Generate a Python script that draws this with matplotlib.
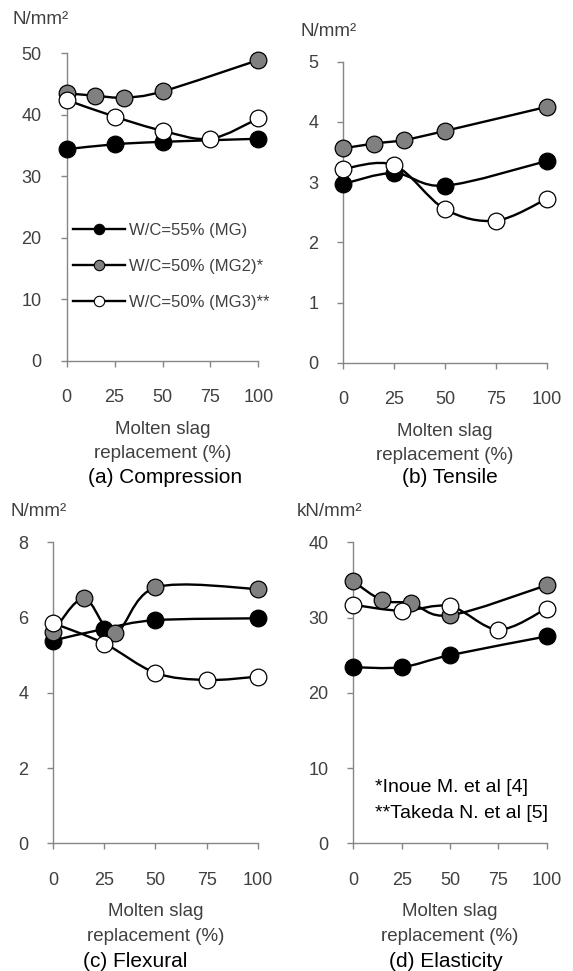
import matplotlib
matplotlib.use('Agg')
import matplotlib.pyplot as plt
from matplotlib.path import Path
from matplotlib.patches import PathPatch
from matplotlib.lines import Line2D
import numpy as np

plt.rcParams['font.family'] = ['Liberation Sans', 'DejaVu Sans']

# replacement levels (%)
x_mg = [0, 25, 50, 100]
x_mg2 = [0, 15, 30, 50, 100]
x_mg3 = [0, 25, 50, 75, 100]

# (a) compression, N/mm2
comp_mg = [34.4, 35.2, 35.6, 36.1]
comp_mg2 = [43.5, 43.1, 42.8, 43.8, 48.9]
comp_mg3 = [42.4, 39.7, 37.4, 36.1, 39.4]

# (b) tensile, N/mm2
tens_mg = [2.97, 3.15, 2.94, 3.35]
tens_mg2 = [3.56, 3.64, 3.70, 3.85, 4.25]
tens_mg3 = [3.22, 3.28, 2.55, 2.36, 2.72]

# (c) flexural, N/mm2
flex_mg = [5.39, 5.70, 5.93, 5.98]
flex_mg2 = [5.62, 6.51, 5.58, 6.80, 6.76]
flex_mg3 = [5.85, 5.31, 4.53, 4.34, 4.43]

# (d) elasticity, kN/mm2
elas_mg = [23.4, 23.4, 25.0, 27.5]
elas_mg2 = [34.8, 32.3, 31.9, 30.3, 34.3]
elas_mg3 = [31.7, 30.9, 31.5, 28.4, 31.2]

labels = ['W/C=55% (MG)', 'W/C=50% (MG2)*', 'W/C=50% (MG3)**']
fills = ['black', '#808080', 'white']
x_ticks = [0, 25, 50, 75, 100]

W, H = 573, 971
fig = plt.figure(figsize=(W / 100, H / 100), dpi=100)

TXT = '#404040'
AX = '#868686'


def px_axes(l, r, t, b):
    return fig.add_axes([l / W, 1 - b / H, (r - l) / W, (b - t) / H])


def ftext(x, y, s, **kw):
    fig.text(x / W, 1 - y / H, s, **kw)


def smooth(ax, xs, ys):
    # excel-like smoothed line: cubic bezier through the points
    pts = np.column_stack([xs, ys]).astype(float)
    n = len(pts)
    verts = [pts[0]]
    codes = [Path.MOVETO]
    for i in range(n - 1):
        p0 = pts[i - 1] if i > 0 else pts[i]
        p1 = pts[i]
        p2 = pts[i + 1]
        p3 = pts[i + 2] if i + 2 < n else pts[i + 1]
        c1 = p1 + (p2 - p0) / 6.0
        c2 = p2 - (p3 - p1) / 6.0
        verts += [c1, c2, p2]
        codes += [Path.CURVE4] * 3
    ax.add_patch(PathPatch(Path(verts, codes), facecolor='none',
                           edgecolor='black', lw=1.7, zorder=3, clip_on=False))


def panel(box, series, ymax, ystep, unit, unit_xy, cap, cap_xy):
    l, r, t, b = box
    ax = px_axes(l, r, t, b)
    for (xs, ys), fc in zip(series, fills):
        smooth(ax, xs, ys)
    for (xs, ys), fc in zip(series, fills):
        ax.plot(xs, ys, ls='none', marker='o', ms=12, mfc=fc, mec='black',
                mew=0.9, zorder=4, clip_on=False)
    ax.set_xlim(0, 100)
    ax.set_ylim(0, ymax)
    ax.set_xticks(x_ticks)
    ax.set_yticks(np.arange(0, ymax + ystep / 2, ystep))
    for s in ['top', 'right']:
        ax.spines[s].set_visible(False)
    for s in ['left', 'bottom']:
        ax.spines[s].set_color(AX)
        ax.spines[s].set_linewidth(1.0)
    ax.tick_params(axis='x', direction='out', length=4, width=1, color=AX,
                   pad=16.5, labelsize=13, labelcolor=TXT)
    ax.tick_params(axis='y', direction='out', length=4, width=1, color=AX,
                   pad=14, labelsize=13, labelcolor=TXT)
    ax.patch.set_alpha(0)
    cx = (l + r) / 2
    ftext(cx, b + 68.5, 'Molten slag', ha='center', va='center',
          fontsize=13.5, color=TXT)
    ftext(cx, b + 93, 'replacement (%)', ha='center', va='center',
          fontsize=13.5, color=TXT)
    ftext(unit_xy[0], unit_xy[1], unit, ha='left', va='center',
          fontsize=13.5, color=TXT)
    ftext(cap_xy[0], cap_xy[1], cap, ha='center', va='center', fontsize=15,
          color='black')
    return ax


ax_a = panel((66.7, 258.3, 53.3, 360.7),
             [(x_mg, comp_mg), (x_mg2, comp_mg2), (x_mg3, comp_mg3)],
             50, 10, 'N/mm²', (13, 20), '(a) Compression', (165, 477))
ax_b = panel((343.3, 546.7, 61.7, 362.7),
             [(x_mg, tens_mg), (x_mg2, tens_mg2), (x_mg3, tens_mg3)],
             5, 1, 'N/mm²', (301, 32), '(b) Tensile', (450, 477))
ax_c = panel((53.3, 257.7, 542.3, 843.3),
             [(x_mg, flex_mg), (x_mg2, flex_mg2), (x_mg3, flex_mg3)],
             8, 2, 'N/mm²', (11, 512), '(c) Flexural', (135, 961))
ax_d = panel((353.3, 546.7, 542.3, 843.3),
             [(x_mg, elas_mg), (x_mg2, elas_mg2), (x_mg3, elas_mg3)],
             40, 10, 'kN/mm²', (297, 512), '(d) Elasticity', (446, 961))

handles = [Line2D([], [], color='black', lw=1.7, marker='o', ms=7.5, mfc=fc,
                  mec='black', mew=0.8) for fc in fills]
fig.legend(handles, labels, loc='upper left',
           bbox_to_anchor=(73 / W, 1 - 223 / H), frameon=False,
           fontsize=12, handlelength=3.1, handletextpad=0.25,
           labelspacing=1.25, borderpad=0, borderaxespad=0,
           labelcolor=TXT)

ftext(375, 788, '*Inoue M. et al [4]', ha='left', va='center', fontsize=14)
ftext(375, 813, '**Takeda N. et al [5]', ha='left', va='center',
      fontsize=14)

fig.savefig('out.png', dpi=100)
